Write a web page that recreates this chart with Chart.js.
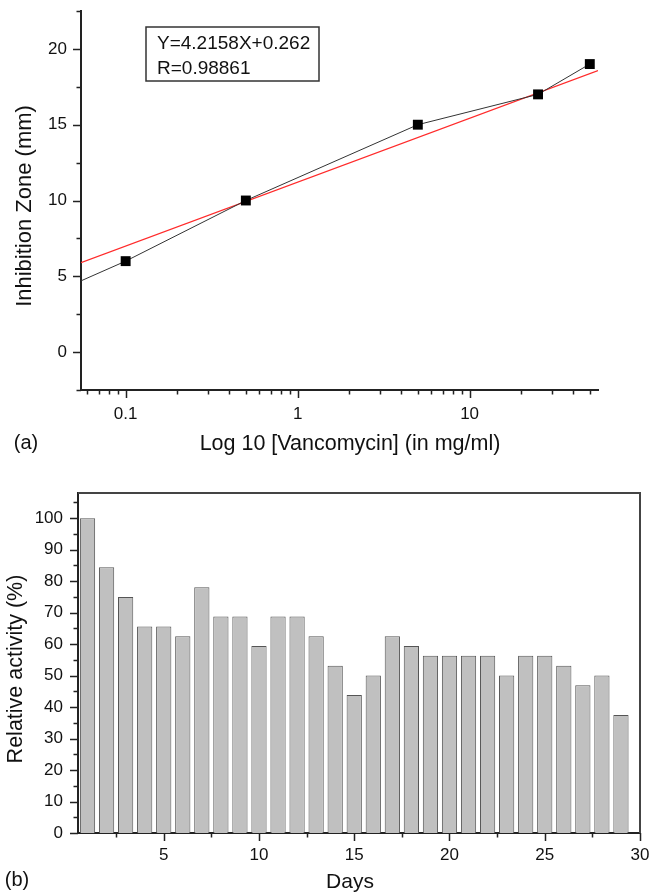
<!DOCTYPE html>
<html lang="en">

<head>
    <meta charset="UTF-8">
    <title>Vancomycin inhibition zone and relative activity</title>
    <script src="https://cdn.jsdelivr.net/npm/chart.js"></script>
    <style>
        body { margin: 0; background: #fff; }
        canvas { position: absolute; left: 0; }
        #chartA { top: 0; }
        #chartB { top: 460px; }
    </style>
</head>

<body>
    <canvas id="chartA" width="664" height="460"></canvas>
    <canvas id="chartB" width="664" height="432"></canvas>

    <script>
        // (a) calibration curve
        const concentration = [0.1, 0.5, 5, 25, 50];   // mg/ml
        const inhibitionZone = [6, 10, 15, 17, 19];     // mm
        const leadX = 0.055, leadY = 4.7;               // black line runs on to the axis
        const fitX = [0.055, 55.8];
        const fitY = [5.9, 18.57];
        const fitText = ['Y=4.2158X+0.262', 'R=0.98861'];

        const aXTicks = [0.1, 1, 10];
        const aXMinor = [0.06, 0.07, 0.08, 0.09, 0.2, 0.3, 0.4, 0.5, 0.6, 0.7, 0.8, 0.9,
                         2, 3, 4, 5, 6, 7, 8, 9, 20, 30, 40, 50];
        const aYTicks = [0, 5, 10, 15, 20];
        const aYMinor = [-2.5, 2.5, 7.5, 12.5, 17.5, 22.5];

        // (b) stability over days
        const days = [1, 2, 3, 4, 5, 6, 7, 8, 9, 10, 11, 12, 13, 14, 15, 16, 17, 18, 19, 20,
                      21, 22, 23, 24, 25, 26, 27, 28, 29];
        const relativeActivity = [100, 84.4, 75, 65.6, 65.6, 62.5, 78.1, 68.8, 68.8, 59.4,
                                  68.8, 68.8, 62.5, 53.1, 43.8, 50, 62.5, 59.4, 56.3, 56.3,
                                  56.3, 56.3, 50, 56.3, 56.3, 53.1, 46.9, 50, 37.5];

        const bXTicks = [5, 10, 15, 20, 25, 30];
        const bXMinor = [2.5, 7.5, 12.5, 17.5, 22.5, 27.5];
        const bYTicks = [0, 10, 20, 30, 40, 50, 60, 70, 80, 90, 100];
        const bYMinor = [5, 15, 25, 35, 45, 55, 65, 75, 85, 95, 105];

        Chart.defaults.font.family = "'Liberation Sans', Arial, sans-serif";
        Chart.defaults.font.size = 17;
        Chart.defaults.color = '#111';

        // tick marks (major/minor), frame and free text
        function makeDecor(cfg) {
            return {
                id: 'decor',
                afterDraw: function (chart) {
                    var ctx = chart.ctx;
                    var xs = chart.scales.x, ys = chart.scales.y;
                    var area = chart.chartArea;
                    ctx.save();
                    ctx.strokeStyle = '#222';
                    ctx.lineWidth = 1.5;
                    ctx.beginPath();
                    cfg.xMajor.forEach(function (v) {
                        var p = Math.round(xs.getPixelForValue(v)) + 0.5;
                        ctx.moveTo(p, area.bottom); ctx.lineTo(p, area.bottom + 8);
                    });
                    cfg.xMinor.forEach(function (v) {
                        var p = Math.round(xs.getPixelForValue(v)) + 0.5;
                        ctx.moveTo(p, area.bottom); ctx.lineTo(p, area.bottom + 4.5);
                    });
                    cfg.yMajor.forEach(function (v) {
                        var p = Math.round(ys.getPixelForValue(v)) + 0.5;
                        ctx.moveTo(area.left, p); ctx.lineTo(area.left - 8, p);
                    });
                    cfg.yMinor.forEach(function (v) {
                        var p = Math.round(ys.getPixelForValue(v)) + 0.5;
                        ctx.moveTo(area.left, p); ctx.lineTo(area.left - 4.5, p);
                    });
                    ctx.stroke();

                    if (cfg.frame) {
                        ctx.strokeStyle = '#444';
                        ctx.lineWidth = 2;
                        ctx.beginPath();
                        ctx.moveTo(area.left, area.top);
                        ctx.lineTo(area.right, area.top);
                        ctx.lineTo(area.right, area.bottom);
                        ctx.stroke();
                    }

                    if (cfg.box) {
                        var b = cfg.box;
                        ctx.strokeStyle = '#333';
                        ctx.lineWidth = 1.5;
                        ctx.strokeRect(area.left + b.dx, area.top + b.dy, b.w, b.h);
                        ctx.fillStyle = '#111';
                        ctx.font = "19px 'Liberation Sans', Arial, sans-serif";
                        ctx.textAlign = 'left';
                        ctx.textBaseline = 'alphabetic';
                        b.lines.forEach(function (t, i) {
                            ctx.fillText(t, area.left + b.dx + 11, area.top + b.dy + 22 + i * 25);
                        });
                    }

                    ctx.fillStyle = '#111';
                    ctx.textBaseline = 'middle';
                    ctx.textAlign = 'center';
                    cfg.texts.forEach(function (t) {
                        ctx.save();
                        ctx.font = t.size + "px 'Liberation Sans', Arial, sans-serif";
                        ctx.translate(t.x, t.y);
                        if (t.rot) ctx.rotate(-Math.PI / 2);
                        ctx.fillText(t.text, 0, 0);
                        ctx.restore();
                    });
                    ctx.restore();
                }
            };
        }

        function fixTicks(list) {
            return function (scale) {
                scale.ticks = list.map(function (v) { return { value: v }; });
            };
        }

        // fixed axis size, no extra label overhang padding
        function fitTo(prop, size) {
            return function (s) {
                s[prop] = size;
                s.paddingTop = 0; s.paddingBottom = 0;
                s.paddingLeft = 0; s.paddingRight = 0;
            };
        }

        var pointsA = [{ x: leadX, y: leadY }].concat(concentration.map(function (c, i) {
            return { x: c, y: inhibitionZone[i] };
        }));
        var radiiA = [0].concat(concentration.map(function () { return 7; }));

        new Chart(document.getElementById('chartA').getContext('2d'), {
            type: 'line',
            data: {
                datasets: [{
                    label: 'Inhibition zone',
                    data: pointsA,
                    borderColor: '#333',
                    borderWidth: 1,
                    pointStyle: 'rect',
                    pointRadius: radiiA,
                    pointBackgroundColor: '#000',
                    pointBorderColor: '#000',
                    pointBorderWidth: 0,
                    clip: false
                }, {
                    label: 'Linear fit',
                    data: fitX.map(function (x, i) { return { x: x, y: fitY[i] }; }),
                    borderColor: '#ff2a2a',
                    borderWidth: 1.2,
                    pointRadius: 0
                }]
            },
            options: {
                responsive: false,
                animation: false,
                devicePixelRatio: 1,
                layout: { padding: { left: 0, top: 11, right: 66, bottom: 0 } },
                plugins: { legend: { display: false }, tooltip: { enabled: false } },
                scales: {
                    x: {
                        type: 'logarithmic',
                        min: 0.055,
                        max: 55.8,
                        grid: { display: false, drawTicks: false },
                        border: { display: true, color: '#222', width: 2 },
                        ticks: {
                            padding: 14,
                            autoSkip: false,
                            maxRotation: 0,
                            callback: function (v) { return String(v); }
                        },
                        afterBuildTicks: fixTicks(aXTicks),
                        afterFit: fitTo('height', 70)
                    },
                    y: {
                        min: -2.5,
                        max: 22.5,
                        grid: { display: false, drawTicks: false },
                        border: { display: true, color: '#222', width: 2 },
                        ticks: { padding: 14 },
                        afterBuildTicks: fixTicks(aYTicks),
                        afterFit: fitTo('width', 81)
                    }
                }
            },
            plugins: [makeDecor({
                xMajor: aXTicks, xMinor: aXMinor, yMajor: aYTicks, yMinor: aYMinor,
                frame: false,
                box: { dx: 65, dy: 16, w: 173, h: 54, lines: fitText },
                texts: [
                    { text: 'Inhibition Zone (mm)', x: 25, y: 206, size: 22, rot: true },
                    { text: 'Log 10 [Vancomycin] (in mg/ml)', x: 350, y: 444, size: 21.5 },
                    { text: '(a)', x: 26, y: 443, size: 20 }
                ]
            })]
        });

        new Chart(document.getElementById('chartB').getContext('2d'), {
            type: 'bar',
            data: {
                datasets: [{
                    label: 'Relative activity',
                    data: days.map(function (d, i) { return { x: d, y: relativeActivity[i] }; }),
                    backgroundColor: '#c0c0c0',
                    borderColor: '#555',
                    borderWidth: 1,
                    barPercentage: 0.8,
                    categoryPercentage: 1
                }]
            },
            options: {
                responsive: false,
                animation: false,
                devicePixelRatio: 1,
                layout: { padding: { left: 0, top: 33, right: 24, bottom: 0 } },
                plugins: { legend: { display: false }, tooltip: { enabled: false } },
                scales: {
                    x: {
                        type: 'linear',
                        min: 0.5,
                        max: 30,
                        offset: false,
                        grid: { display: false, drawTicks: false },
                        border: { display: true, color: '#222', width: 2 },
                        ticks: { padding: 12, maxRotation: 0, autoSkip: false },
                        afterBuildTicks: fixTicks(bXTicks),
                        afterFit: fitTo('height', 59)
                    },
                    y: {
                        min: 0,
                        max: 108,
                        grid: { display: false, drawTicks: false },
                        border: { display: true, color: '#222', width: 2 },
                        ticks: { padding: 15 },
                        afterBuildTicks: fixTicks(bYTicks),
                        afterFit: fitTo('width', 78)
                    }
                }
            },
            plugins: [makeDecor({
                xMajor: bXTicks, xMinor: bXMinor, yMajor: bYTicks, yMinor: bYMinor,
                frame: true,
                box: null,
                texts: [
                    { text: 'Relative activity (%)', x: 16, y: 209, size: 21.5, rot: true },
                    { text: 'Days', x: 350, y: 422, size: 21 },
                    { text: '(b)', x: 17, y: 420, size: 20 }
                ]
            })]
        });
    </script>
</body>

</html>
